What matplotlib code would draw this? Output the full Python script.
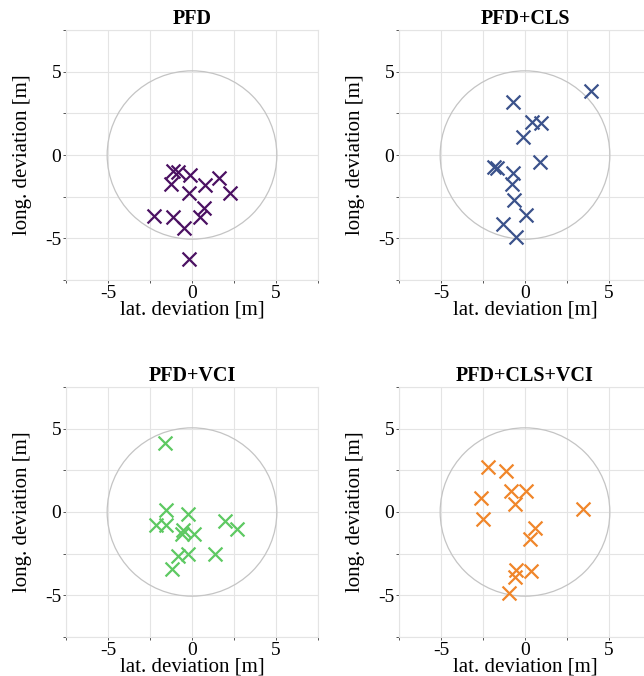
import matplotlib.pyplot as plt
from matplotlib.patches import Circle

titles = ["PFD", "PFD+CLS", "PFD+VCI", "PFD+CLS+VCI"]
colors = ["#4b1162", "#3b528b", "#5ec962", "#f0862a"]

pfd_x = [-1.14, -0.86, -0.14, -1.25, 0.80, 1.59, -0.16, 2.25, -2.29, -1.14, 0.69, 0.50, -0.50, -0.16]
pfd_y = [-0.96, -1.04, -1.20, -1.76, -1.80, -1.36, -2.30, -2.26, -3.66, -3.70, -3.16, -3.70, -4.40, -6.26]

cls_x = [3.90, -0.72, 0.44, 0.93, -0.12, 0.87, -1.82, -1.66, -0.72, -0.78, -0.68, 0.08, -1.28, -0.52]
cls_y = [3.86, 3.18, 2.00, 1.94, 1.10, -0.44, -0.74, -0.78, -1.10, -1.76, -2.70, -3.60, -4.14, -4.90]

vci_x = [-1.61, -1.54, -0.24, -2.13, -1.54, -0.54, -0.60, 0.10, 1.95, 2.69, -0.84, -0.24, 1.35, -1.20]
vci_y = [4.16, 0.10, -0.10, -0.80, -0.80, -1.06, -1.30, -1.30, -0.54, -1.04, -2.66, -2.54, -2.54, -3.44]

all_x = [-2.21, -1.12, -2.61, -0.86, 0.08, -0.62, -2.51, 3.48, 0.57, 0.32, -0.52, -0.62, 0.38, -0.98]
all_y = [2.70, 2.46, 0.84, 1.26, 1.26, 0.50, -0.44, 0.16, -0.94, -1.60, -3.46, -3.90, -3.54, -4.84]

data = [(pfd_x, pfd_y), (cls_x, cls_y), (vci_x, vci_y), (all_x, all_y)]

radius = 5.05
major = [-5, 0, 5]
minor = [-7.5, -2.5, 2.5, 7.5]

plt.rcParams['font.family'] = ['Liberation Serif', 'DejaVu Serif']
plt.rcParams['axes.unicode_minus'] = False

W, H = 644, 676
fig = plt.figure(figsize=(W / 100, H / 100), dpi=100)

# axes boxes in pixels: left, top
boxes = [(66, 30), (399, 30), (66, 387), (399, 387)]
size = 252

for i in range(4):
    l, t = boxes[i]
    ax = fig.add_axes([l / W, 1 - (t + 250) / H, size / W, 250 / H])
    x, y = data[i]
    ax.add_patch(Circle((0, 0), radius, fill=False, color="#c4c4c4", lw=0.9, zorder=2))
    ax.scatter(x, y, marker="x", s=100, color=colors[i], linewidths=1.6, zorder=3)
    ax.set_xlim(-7.5, 7.5)
    ax.set_ylim(-7.5, 7.5)
    ax.set_xticks(major)
    ax.set_yticks(major)
    ax.set_xticks(minor, minor=True)
    ax.set_yticks(minor, minor=True)
    ax.grid(True, which="both", color="#e4e4e4", lw=0.8, zorder=0)
    ax.set_axisbelow(True)
    for s in ax.spines.values():
        s.set_color("#e4e4e4")
        s.set_linewidth(0.8)
    ax.tick_params(which="both", length=2.5, width=0.7, color="#555555", labelsize=14, pad=1)
    ax.set_title(titles[i], fontsize=14.5, fontweight="bold", pad=4)
    ax.set_xlabel("lat. deviation [m]", fontsize=15, labelpad=-1)
    ax.set_ylabel("long. deviation [m]", fontsize=15, labelpad=9)

fig.savefig("out.png", dpi=100)
